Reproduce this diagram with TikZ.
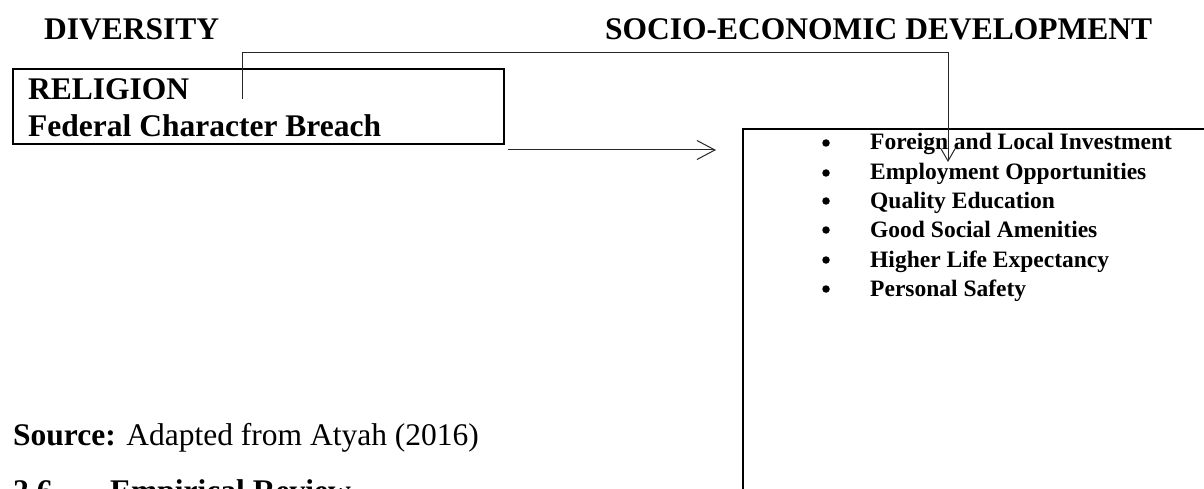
\documentclass[tikz,border=0pt]{standalone}
\usepackage{fontspec}
\setmainfont{Liberation Serif}
\usetikzlibrary{arrows.meta}
\begin{document}
\begin{tikzpicture}[x=1pt,y=-1pt,
  boxline/.style={draw=black, line width=1.7pt, rectangle, inner sep=0pt},
  conn/.style={draw=black!85, line width=1pt},
  head/.style={font=\fontsize{31.5}{36}\selectfont\bfseries, inner sep=0pt, anchor=base west},
  plainhead/.style={font=\fontsize{31.5}{36}\selectfont, inner sep=0pt, anchor=base west},
  itemtxt/.style={font=\fontsize{23.5}{28}\selectfont\bfseries, inner sep=0pt, anchor=base west},
  bul/.style={circle, fill=black, inner sep=0pt, minimum size=7.5pt},
  bigbarb/.style={-{Straight Barb[length=18pt,width=19pt,line width=1pt]}},
  smallbarb/.style={-{Straight Barb[length=13pt,width=15pt,line width=1pt]}}]
\clip (0,0) rectangle (1204,489);
% titles
\node[head] (div) at (44,40) {DIVERSITY};
\node[head] (soc) at (605,40) {SOCIO-ECONOMIC DEVELOPMENT};
% religion box
\node[boxline, minimum width=491pt, minimum height=75pt] (rel) at (258.5,106.5) {};
\node[head] (relt) at (28,100) {RELIGION};
\node[head] (fcb) at (28,137) {Federal Character Breach};
% development box (runs off the page)
\node[boxline, minimum width=480pt, minimum height=380pt] (dev) at (983,319) {};
% items
\foreach \n/\yy/\t in {i1/150/Foreign and Local Investment,
                       i2/180/Employment Opportunities,
                       i3/208/Quality Education,
                       i4/237/Good Social Amenities,
                       i5/267/Higher Life Expectancy,
                       i6/296/Personal Safety}{
  \node[bul] (\n b) at (826,\yy-7) {};
  \node[itemtxt] (\n) at (870,\yy) {\t};
}
% connectors
\coordinate (a0) at (508,150);
\coordinate (a1) at (716,150);
\draw[conn, bigbarb] (a0) -- (a1);
\coordinate (b0) at (242,99);
\coordinate (b1) at (242,53);
\coordinate (b2) at (948,162);
\draw[conn, smallbarb] (b0) -- (b1) -| (b2);
% source and section heading
\node[plainhead] (src) at (13,445) {\textbf{Source:} Adapted from Atyah (2016)};
\node[head] (secn) at (13,501) {2.6};
\node[head] (sect) at (110,501) {Empirical Review};
\end{tikzpicture}
\end{document}
